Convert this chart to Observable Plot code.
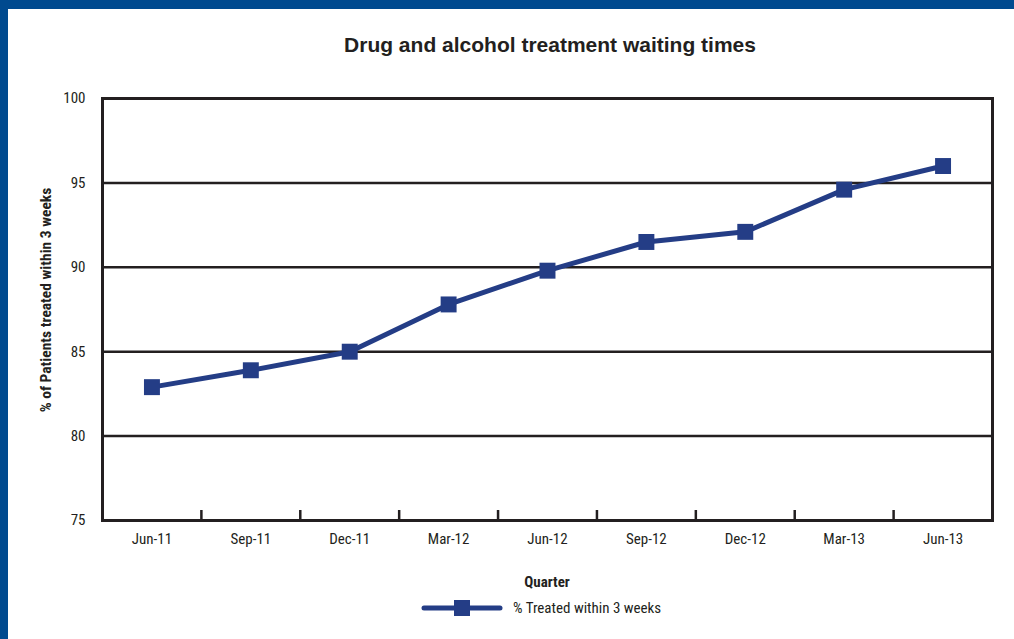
<!DOCTYPE html>
<html>
<head>
<meta charset="utf-8">
<script src="https://cdn.jsdelivr.net/npm/d3@7"></script>
<script src="https://cdn.jsdelivr.net/npm/@observablehq/plot@0.6"></script>
<style>
  html, body { margin: 0; padding: 0; background: #fff; }
  #page {
    position: relative; width: 1014px; height: 639px; overflow: hidden;
    background: #fff; box-sizing: border-box;
    border-top: 9px solid #004a8f; border-left: 8px solid #004a8f;
    font-family: "Liberation Sans Narrow", "Roboto Condensed", "DejaVu Sans Condensed", sans-serif;
    color: #231f20;
  }
  #chart { position: absolute; left: -8px; top: -9px; }
  .title {
    position: absolute; left: -8px; width: 1100px; top: 24px; text-align: center;
    font-family: "Liberation Sans", Arial, sans-serif; font-weight: bold; font-size: 21px;
  }
  .ylabel {
    position: absolute; left: 38px; top: 291px; width: 0; height: 0;
  }
  .ylabel span {
    position: absolute; white-space: nowrap; font-weight: bold; font-size: 15.5px;
    transform: translate(-50%, -50%) rotate(-90deg);
  }
  .xlabel {
    position: absolute; left: 539px; top: 564px; transform: translateX(-50%);
    font-weight: bold; font-size: 15px;
  }
  .legend {
    position: absolute; left: 413px; top: 589px; display: flex; align-items: center;
    font-size: 15px;
  }
  .legend span { margin-left: 10px; }
</style>
</head>
<body>
<div id="page">
  <div id="chart"></div>
  <div class="title" id="title"></div>
  <div class="ylabel"><span id="ylabel"></span></div>
  <div class="xlabel" id="xlabel"></div>
  <div class="legend" id="legend"></div>
</div>
<script>
// Quarterly share of drug and alcohol patients treated within 3 weeks
const quarters = ["Jun-11", "Sep-11", "Dec-11", "Mar-12", "Jun-12", "Sep-12", "Dec-12", "Mar-13", "Jun-13"];
const treated = [82.9, 83.9, 85.0, 87.8, 89.8, 91.5, 92.1, 94.6, 96.0];
const yTicks = [75, 80, 85, 90, 95, 100];
const gridLines = [80, 85, 90, 95];
const seriesName = "% Treated within 3 weeks";
const titleText = "Drug and alcohol treatment waiting times";
const yLabelText = "% of Patients treated within 3 weeks";
const xLabelText = "Quarter";

const navy = "#243d86";
const ink = "#231f20";

const n = quarters.length;
const data = quarters.map((q, i) => ({i, q, v: treated[i]}));
// tick marks sit on the boundaries between quarters
const boundaries = d3.range(1, n).map(i => i - 0.5);

const W = 1014, H = 600;
const mTop = 98, mBottom = 80, mLeft = 102, mRight = 22;
const innerH = H - mTop - mBottom;

const chart = Plot.plot({
  width: W,
  height: H,
  marginTop: mTop,
  marginBottom: mBottom,
  marginLeft: mLeft,
  marginRight: mRight,
  style: {
    background: "transparent",
    overflow: "visible",
    fontFamily: "'Liberation Sans Narrow', 'Roboto Condensed', 'DejaVu Sans Condensed', sans-serif",
    fontSize: "15px",
    color: ink
  },
  x: {
    domain: [-0.5, n - 0.5],
    ticks: d3.range(n),
    tickFormat: i => quarters[i],
    tickSize: 0,
    tickPadding: 13,
    label: null
  },
  y: {
    domain: [75, 100],
    ticks: yTicks,
    tickSize: 0,
    tickPadding: 17,
    label: null
  },
  marks: [
    Plot.ruleY(gridLines, {stroke: ink, strokeWidth: 2.5}),
    Plot.frame({stroke: ink, strokeWidth: 3}),
    Plot.tickX(boundaries, {x: d => d, insetTop: innerH - 10, stroke: ink, strokeWidth: 2.5}),
    Plot.line(data, {x: "i", y: "v", stroke: navy, strokeWidth: 5}),
    Plot.dot(data, {x: "i", y: "v", symbol: "square", r: 9, fill: navy, stroke: "none"})
  ]
});
document.getElementById("chart").appendChild(chart);

document.getElementById("title").textContent = titleText;
document.getElementById("ylabel").textContent = yLabelText;
document.getElementById("xlabel").textContent = xLabelText;

// legend swatch: line with a square marker
const legend = document.getElementById("legend");
const sw = d3.create("svg").attr("width", 82).attr("height", 20);
sw.append("line").attr("x1", 3).attr("x2", 79).attr("y1", 10).attr("y2", 10)
  .attr("stroke", navy).attr("stroke-width", 5).attr("stroke-linecap", "round");
sw.append("rect").attr("x", 33).attr("y", 2).attr("width", 16).attr("height", 16).attr("fill", navy);
legend.appendChild(sw.node());
const lt = document.createElement("span");
lt.textContent = seriesName;
legend.appendChild(lt);
</script>
</body>
</html>
